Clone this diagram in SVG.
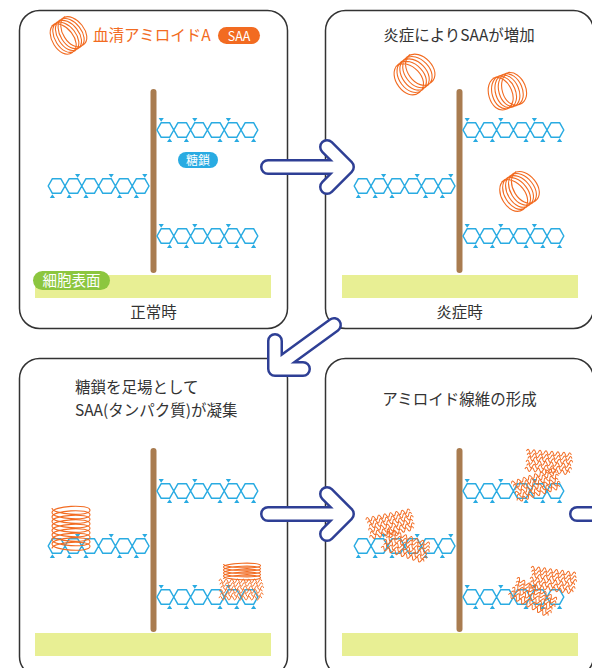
<svg xmlns="http://www.w3.org/2000/svg" xmlns:xlink="http://www.w3.org/1999/xlink" width="592" height="668" viewBox="0 0 592 668">
  <style>
    text { font-family: "Noto Sans CJK JP", "Noto Sans", sans-serif; fill: #333; }
    .panel { fill: #fff; stroke: #333; stroke-width: 1.5; }
    .stem { stroke: #a97c50; stroke-width: 6; stroke-linecap: round; }
    .surface { fill: #e8ef94; }
    .hex { fill: none; stroke: #29abe2; stroke-width: 1.5; stroke-linejoin: round; }
    .tri { fill: #29abe2; }
    .coil { fill: none; stroke: #f26b21; stroke-width: 1.1; vector-effect: non-scaling-stroke; }
    .wave { fill: none; stroke: #f26b21; stroke-width: 1; }
    .arw-out { fill: none; stroke: #2e3f95; stroke-width: 16; stroke-linecap: round; stroke-linejoin: round; }
    .arw-in { fill: none; stroke: #fff; stroke-width: 11; stroke-linecap: round; stroke-linejoin: round; }
    .title { font-size: 15.5px; }
    .pilltxt { fill: #fff; }
  </style>
  <defs>
    <!-- sugar chain: six linked hexagons with small triangle side groups -->
    <g id="chain">
      <path class="hex" d="M0,0 l4.2,-7.3 h8.4 l4.2,7.3 l-4.2,7.3 h-8.4 z m16.8,0 l4.2,-7.3 h8.4 l4.2,7.3 l-4.2,7.3 h-8.4 z m16.8,0 l4.2,-7.3 h8.4 l4.2,7.3 l-4.2,7.3 h-8.4 z m16.8,0 l4.2,-7.3 h8.4 l4.2,7.3 l-4.2,7.3 h-8.4 z m16.8,0 l4.2,-7.3 h8.4 l4.2,7.3 l-4.2,7.3 h-8.4 z m16.8,0 l4.2,-7.3 h8.4 l4.2,7.3 l-4.2,7.3 h-8.4 z"/>
      <path class="tri" d="M1.6,-12 h5.2 l-2.6,3.7 z M35.2,-12 h5.2 l-2.6,3.7 z M68.8,-12 h5.2 l-2.6,3.7 z M12.6,8.3 l2.6,3.7 h-5.2 z M29.4,8.3 l2.6,3.7 h-5.2 z M63,8.3 l2.6,3.7 h-5.2 z M79.8,8.3 l2.6,3.7 h-5.2 z M96.6,8.3 l2.6,3.7 h-5.2 z"/>
    </g>
    <!-- helical protein coil, axis along x, five nearly round turns -->
    <path id="coil" class="coil" d="M-8.5,-13 C7.5,-13 9.2,13 -6.8,13 C-22.8,13 -21.1,-13 -5.1,-13 C10.9,-13 12.6,13 -3.4,13 C-19.4,13 -17.7,-13 -1.7,-13 C14.3,-13 16,13 0,13 C-16,13 -14.3,-13 1.7,-13 C17.7,-13 19.4,13 3.4,13 C-12.6,13 -10.9,-13 5.1,-13 C21.1,-13 22.8,13 6.8,13 C-9.2,13 -7.5,-13 8.5,-13"/>
    <!-- tall stacked coil, axis along y -->
    <path id="coilStack" class="coil" d="M-19,0 C-19,6.7 19,8.95 19,2.25 C19,-4.45 -19,-2.2 -19,4.5 C-19,11.2 19,13.45 19,6.75 C19,0.05 -19,2.3 -19,9 C-19,15.7 19,17.95 19,11.25 C19,4.55 -19,6.8 -19,13.5 C-19,20.2 19,22.45 19,15.75 C19,9.05 -19,11.3 -19,18 C-19,24.7 19,26.95 19,20.25 C19,13.55 -19,15.8 -19,22.5 C-19,29.2 19,31.45 19,24.75 C19,18.05 -19,20.3 -19,27 C-19,33.7 19,35.95 19,29.25 C19,22.55 -19,24.8 -19,31.5 C-19,38.2 19,40.45 19,33.75 C19,27.05 -19,29.3 -19,36 C-19,42.7 19,44.95 19,38.25 C19,31.55 -19,33.8 -19,40.5"/>
    <!-- short flat coil -->
    <path id="coilFlat" class="coil" d="M-18.5,0 C-18.5,4 18.5,5.5 18.5,1.5 C18.5,-2.5 -18.5,-1 -18.5,3 C-18.5,7 18.5,8.5 18.5,4.5 C18.5,0.5 -18.5,2 -18.5,6 C-18.5,10 18.5,11.5 18.5,7.5 C18.5,3.5 -18.5,5 -18.5,9 C-18.5,13 18.5,14.5 18.5,10.5 C18.5,6.5 -18.5,8 -18.5,12 C-18.5,16 18.5,17.5 18.5,13.5 C18.5,9.5 -18.5,11 -18.5,15"/>
    <!-- amyloid fibril: stacked wavy strands -->
    <path id="wave" class="wave" d="M0,0 q1.5,-4 3,0 t3,0 t3,0 t3,0 t3,0 t3,0 t3,0 t3,0 t3,0 t3,0 t3,0 t3,0 t3,0 t3,0 t3,0"/>
    <g id="fibril">
      <use xlink:href="#wave" x="0" y="0"/>
      <use xlink:href="#wave" x="1" y="3.6"/>
      <use xlink:href="#wave" x="2" y="7.2"/>
      <use xlink:href="#wave" x="0.5" y="10.8"/>
      <use xlink:href="#wave" x="1.5" y="14.4"/>
      <use xlink:href="#wave" x="0" y="18"/>
    </g>
    <!-- outlined arrow pointing right, tip vertex at origin -->
    <g id="arrowR">
      <path class="arw-out" d="M-79,0 H-2 M-20,-20 L0,0 L-20,20"/>
      <path class="arw-in" d="M-79,0 H-2 M-20,-20 L0,0 L-20,20"/>
    </g>
  </defs>

  <!-- panel 1: normal state -->
  <g id="panel-normal">
    <rect class="panel" x="19.5" y="10.5" width="268" height="318" rx="20"/>
    <use xlink:href="#coil" transform="translate(68,35) rotate(-35) scale(0.95,1.3)"/>
    <text class="title" x="93" y="41" style="fill:#f26b21">血清アミロイドA</text>
    <rect x="218" y="27" width="42" height="17" rx="8.5" fill="#f26b21"/>
    <text class="pilltxt" x="239" y="40.5" font-size="12.5" text-anchor="middle">SAA</text>
    <rect class="surface" x="35" y="275" width="236" height="23"/>
    <line class="stem" x1="153.5" y1="92" x2="153.5" y2="270"/>
    <use xlink:href="#chain" transform="translate(157,130)"/>
    <use xlink:href="#chain" transform="translate(149,186) scale(-1,1)"/>
    <use xlink:href="#chain" transform="translate(157,236)"/>
    <rect x="178" y="152" width="40" height="16" rx="8" fill="#29abe2"/>
    <text class="pilltxt" x="198" y="164.5" font-size="12" text-anchor="middle">糖鎖</text>
    <rect x="33" y="271" width="77" height="19" rx="9.5" fill="#8cc63f"/>
    <text class="pilltxt" x="71.5" y="286" font-size="14.5" text-anchor="middle">細胞表面</text>
    <text class="title" x="153.5" y="318" text-anchor="middle">正常時</text>
  </g>

  <!-- panel 2: inflammation -->
  <g id="panel-inflammation">
    <rect class="panel" x="325.5" y="10.5" width="268" height="318" rx="20"/>
    <text class="title" x="459" y="41" text-anchor="middle">炎症によりSAAが増加</text>
    <rect class="surface" x="342" y="275" width="236" height="23"/>
    <line class="stem" x1="459.5" y1="92" x2="459.5" y2="270"/>
    <use xlink:href="#chain" transform="translate(463,130)"/>
    <use xlink:href="#chain" transform="translate(455,186) scale(-1,1)"/>
    <use xlink:href="#chain" transform="translate(463,236)"/>
    <use xlink:href="#coil" transform="translate(414,74) rotate(-40) scale(1.1,1.35)"/>
    <use xlink:href="#coil" transform="translate(507,91) rotate(-20) scale(1.05,1.3)"/>
    <use xlink:href="#coil" transform="translate(519,191) rotate(-35) scale(1.05,1.35)"/>
    <text class="title" x="459.5" y="318" text-anchor="middle">炎症時</text>
  </g>

  <!-- panel 3: aggregation on sugar chains -->
  <g id="panel-aggregation">
    <rect class="panel" x="19.5" y="358.5" width="268" height="318" rx="20"/>
    <text class="title" x="75" y="393">糖鎖を足場として</text>
    <text class="title" x="75" y="416">SAA(タンパク質)が凝集</text>
    <rect class="surface" x="35" y="633" width="236" height="23"/>
    <line class="stem" x1="153.5" y1="451" x2="153.5" y2="629"/>
    <use xlink:href="#chain" transform="translate(157,491)"/>
    <use xlink:href="#chain" transform="translate(149,546) scale(-1,1)"/>
    <use xlink:href="#chain" transform="translate(157,597)"/>
    <use xlink:href="#coilStack" transform="translate(71,508)"/>
    <use xlink:href="#coilFlat" transform="translate(242,564)"/>
    <use xlink:href="#fibril" transform="translate(219,581) scale(0.95,0.95)"/>
  </g>

  <!-- panel 4: amyloid fibril formation -->
  <g id="panel-fibril">
    <rect class="panel" x="325.5" y="358.5" width="268" height="318" rx="20"/>
    <text class="title" x="459.5" y="405" text-anchor="middle">アミロイド線維の形成</text>
    <rect class="surface" x="342" y="633" width="236" height="23"/>
    <line class="stem" x1="459.5" y1="451" x2="459.5" y2="629"/>
    <use xlink:href="#chain" transform="translate(463,491)"/>
    <use xlink:href="#chain" transform="translate(455,546) scale(-1,1)"/>
    <use xlink:href="#chain" transform="translate(463,597)"/>
    <use xlink:href="#fibril" transform="translate(548,463) rotate(5) translate(-22.5,-10)"/>
    <use xlink:href="#fibril" transform="translate(536,486) rotate(-18) translate(-22.5,-10)"/>
    <use xlink:href="#fibril" transform="translate(390,525) rotate(-12) translate(-22.5,-10)"/>
    <use xlink:href="#fibril" transform="translate(405,547) rotate(18) translate(-22.5,-10)"/>
    <use xlink:href="#fibril" transform="translate(552,581) rotate(8) translate(-22.5,-10)"/>
    <use xlink:href="#fibril" transform="translate(532,598) rotate(28) translate(-22.5,-10)"/>
  </g>

  <!-- step arrows -->
  <g id="connectors">
    <use xlink:href="#arrowR" transform="translate(347,167)"/>
    <g>
      <path class="arw-out" d="M334,325 L279,365 M275,341 L275,369 L303,369"/>
      <path class="arw-in" d="M334,325 L279,365 M275,341 L275,369 L303,369"/>
    </g>
    <use xlink:href="#arrowR" transform="translate(347,514)"/>
    <g>
      <path class="arw-out" d="M577,514 H620"/>
      <path class="arw-in" d="M577,514 H620"/>
    </g>
  </g>
</svg>
